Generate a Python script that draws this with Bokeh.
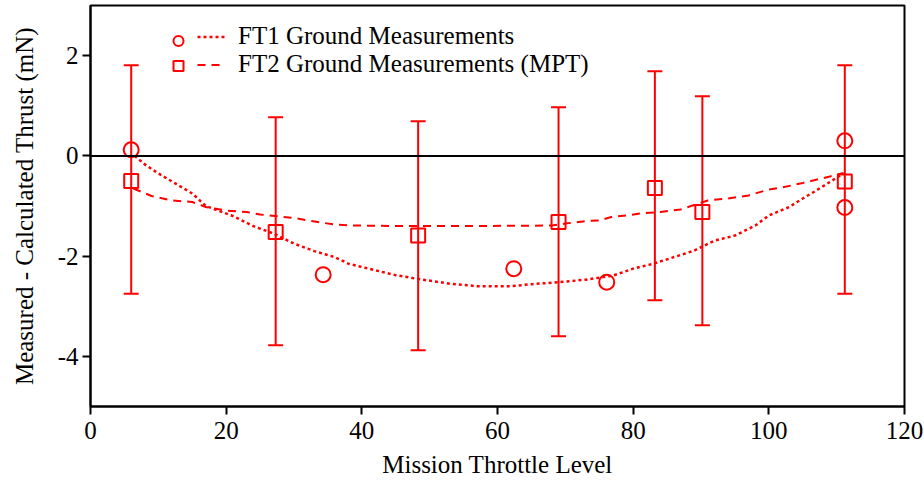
from bokeh.plotting import figure
from bokeh.models import (Whisker, TeeHead, ColumnDataSource, Span, Legend, LegendItem,
                          FixedTicker, Range1d, CustomJSTickFormatter)
from bokeh.embed import file_html
from bokeh.resources import INLINE

# ---------------- data ----------------
x_ticks = [0, 20, 40, 60, 80, 100, 120]
y_ticks = [-4, -2, 0, 2]

ft1_x = [6, 34.3, 62.4, 76.1, 111.2, 111.2]
ft1_y = [0.12, -2.37, -2.25, -2.52, 0.30, -1.03]

ft2_x = [6, 27.3, 48.3, 69.0, 83.2, 90.2, 111.2]
ft2_y = [-0.50, -1.52, -1.59, -1.32, -0.64, -1.12, -0.51]
ft2_upper = [1.81, 0.77, 0.69, 0.97, 1.69, 1.19, 1.81]
ft2_lower = [-2.75, -3.78, -3.88, -3.60, -2.88, -3.38, -2.75]

ft1_model_x = [6.5, 8, 10, 12.5, 15, 17, 19, 21, 24, 27, 30, 33, 36, 38, 41, 45, 48, 53,
               57, 62, 65, 69, 73, 77, 80, 83, 86, 89, 92, 95, 98, 100, 103, 105, 107, 109, 111]
ft1_model_y = [0.0, -0.17, -0.35, -0.55, -0.75, -1.0, -1.1, -1.2, -1.4, -1.55, -1.75, -1.9,
               -2.02, -2.15, -2.25, -2.38, -2.45, -2.55, -2.6, -2.6, -2.56, -2.52, -2.47,
               -2.39, -2.25, -2.15, -2.02, -1.89, -1.69, -1.59, -1.39, -1.19, -1.02, -0.85,
               -0.69, -0.52, -0.35]

ft2_model_x = [6.3, 9, 12, 15, 17, 20, 23, 25, 28, 30.5, 33.5, 36, 39, 45, 55, 68, 70, 73,
               75, 77, 79, 81, 84, 87, 91, 94, 97, 100, 102, 105, 107.5, 109, 111]
ft2_model_y = [-0.65, -0.8, -0.89, -0.92, -1.02, -1.09, -1.12, -1.17, -1.21, -1.25, -1.32,
               -1.37, -1.39, -1.4, -1.4, -1.39, -1.35, -1.3, -1.29, -1.21, -1.19, -1.15,
               -1.12, -1.07, -0.89, -0.85, -0.79, -0.67, -0.63, -0.54, -0.46, -0.41, -0.34]

labels = ["FT1 Ground Measurements", "FT2 Ground Measurements (MPT)"]
x_title = "Mission Throttle Level"
y_title = "Measured - Calculated Thrust (mN)"

FONT = "Liberation Serif"
FS = "25px"
RED = "#ff0000"

# ---------------- figure ----------------
p = figure(width=924, height=481, x_range=Range1d(0, 120), y_range=Range1d(-5, 3),
           output_backend="svg", toolbar_location=None,
           min_border_left=90, min_border_right=20, min_border_top=5, min_border_bottom=75)
p.background_fill_color = "white"
p.border_fill_color = "white"
p.xgrid.visible = False
p.ygrid.visible = False
p.outline_line_color = "black"
p.outline_line_width = 2
p.outline_line_alpha = 1.0

p.xaxis.ticker = FixedTicker(ticks=x_ticks)
p.yaxis.ticker = FixedTicker(ticks=y_ticks)
fmt = CustomJSTickFormatter(code="return String(tick);")
for ax in (p.xaxis[0], p.yaxis[0]):
    ax.formatter = fmt
    ax.minor_tick_line_color = None
    ax.major_tick_in = 0
    ax.major_tick_out = 8
    ax.major_tick_line_width = 2
    ax.major_tick_line_color = "black"
    ax.axis_line_width = 2
    ax.axis_line_color = "black"
    ax.major_label_text_font = FONT
    ax.major_label_text_font_size = FS
    ax.major_label_text_color = "black"
    ax.axis_label_text_font = FONT
    ax.axis_label_text_font_size = FS
    ax.axis_label_text_font_style = "normal"
    ax.axis_label_text_color = "black"
p.xaxis.axis_label = x_title
p.yaxis.axis_label = y_title
p.xaxis.major_label_standoff = 7
p.yaxis.major_label_standoff = 4
p.xaxis.axis_label_standoff = 9
p.yaxis.axis_label_standoff = 17

# zero line
p.add_layout(Span(location=0, dimension="width", line_color="black", line_width=2))

# error bars
src2 = ColumnDataSource(dict(x=ft2_x, y=ft2_y, upper=ft2_upper, lower=ft2_lower))
wh = Whisker(base="x", upper="upper", lower="lower", source=src2, dimension="height",
             line_color=RED, line_width=2,
             upper_head=TeeHead(size=15, line_color=RED, line_width=2),
             lower_head=TeeHead(size=15, line_color=RED, line_width=2))
p.add_layout(wh)

# model curves
l1 = p.line(ft1_model_x, ft1_model_y, line_color=RED, line_width=2.5, line_dash="3 3")
l2 = p.line(ft2_model_x, ft2_model_y, line_color=RED, line_width=2, line_dash="8 6")

# measurement markers
src1 = ColumnDataSource(dict(x=ft1_x, y=ft1_y))
c1 = p.scatter("x", "y", source=src1, marker="circle", size=15, line_color=RED,
               line_width=2, fill_color=None)
s2 = p.scatter("x", "y", source=src2, marker="square", size=14, line_color=RED,
               line_width=2, fill_color=None)

# legends: marker column and line+label column
LEG_Y = 328
legA = Legend(items=[LegendItem(label=" ", renderers=[c1]),
                     LegendItem(label=" ", renderers=[s2])],
              location=(75, LEG_Y), glyph_width=26, glyph_height=25, label_height=25,
              label_width=1, label_standoff=0, spacing=0, padding=0, margin=0,
              border_line_color=None, background_fill_alpha=0,
              label_text_font_size=FS, label_text_font=FONT)
legB = Legend(items=[LegendItem(label=labels[0], renderers=[l1]),
                     LegendItem(label=labels[1], renderers=[l2])],
              location=(107, LEG_Y), glyph_width=28, glyph_height=25, label_height=25,
              label_standoff=13, spacing=0, padding=0, margin=0,
              border_line_color=None, background_fill_alpha=0,
              label_text_font_size=FS, label_text_font=FONT, label_text_color="black")
p.add_layout(legA)
p.add_layout(legB)

open("out.html", "w").write(file_html(p, INLINE))
